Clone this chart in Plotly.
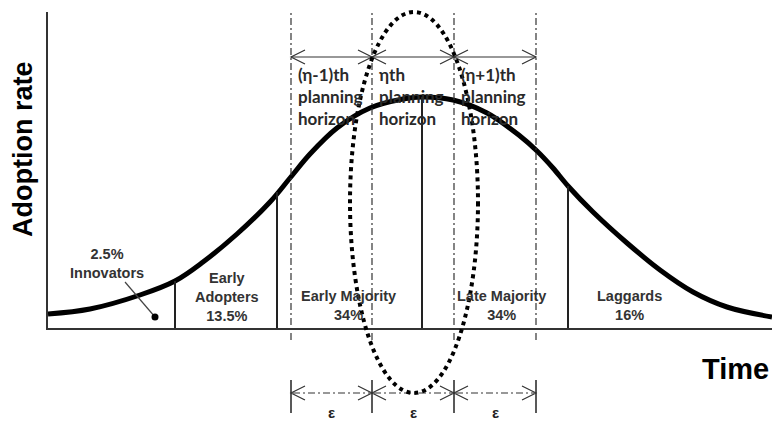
import plotly.graph_objects as go

# ---- data -------------------------------------------------------------
# Bell-shaped adoption curve sampled along its length (time, adoption rate)
curve_time = [0, 42, 92, 127, 155, 189, 222, 242, 262, 289, 322, 355, 374,
              405, 439, 472, 489, 505, 520, 545, 579, 612, 645, 679, 724]
curve_rate = [14, 19, 33, 47, 66, 94, 126, 150, 174, 200, 220, 229, 231,
              228, 215, 192, 177, 160, 142, 116, 85, 58, 36, 21, 11]

# Solid dividers between adopter categories (time, height up to the curve)
divider_time = [127, 229, 374, 520]
divider_top = [47, 136, 231, 142]

# Category labels (text, time, rate)
category_text = ["2.5%<br>Innovators", "Early<br>Adopters<br>13.5%",
                 "Early Majority<br>34%", "Late Majority<br>34%",
                 "Laggards<br>16%"]
category_time = [59, 179, 300, 453, 581]
category_rate = [65, 31, 23, 23, 23]

# Planning horizons: boundaries and labels
horizon_edges = [243, 324, 406, 488]
horizon_text = ["(η-1)th<br>planning<br>horizon", "ηth<br>planning<br>horizon",
                "(η+1)th<br>planning<br>horizon"]
epsilon_text = ["ε", "ε", "ε"]

# Innovators pointer (from label to dot)
pointer_time = [77, 107]
pointer_rate = [46, 11]

# ---- axes geometry ---------------------------------------------------------
X_RANGE = [0, 724]
Y_RANGE = [0, 316]


def yp(v):
    """Map an adoption-rate value onto paper fraction of the plot area."""
    return (v - Y_RANGE[0]) / (Y_RANGE[1] - Y_RANGE[0])


fig = go.Figure()

# adoption curve
fig.add_trace(go.Scatter(
    x=curve_time, y=curve_rate, mode="lines",
    line=dict(color="black", width=5, shape="spline", smoothing=1.0),
    hoverinfo="skip", showlegend=False))

# innovators pointer
fig.add_trace(go.Scatter(
    x=pointer_time, y=pointer_rate, mode="lines",
    line=dict(color="#444", width=1.2), hoverinfo="skip", showlegend=False))
fig.add_trace(go.Scatter(
    x=[pointer_time[-1]], y=[pointer_rate[-1]], mode="markers",
    marker=dict(color="black", size=7), hoverinfo="skip", showlegend=False))

shapes = []

# category dividers
for t, top in zip(divider_time, divider_top):
    shapes.append(dict(type="line", xref="x", yref="y", x0=t, x1=t, y0=0, y1=top,
                       line=dict(color="#222", width=2)))

DASHDOT = "7px,3px,2px,3px"

# horizon boundaries (dash-dot), running above and below the axis
for t in horizon_edges:
    shapes.append(dict(type="line", xref="x", yref="paper", x0=t, x1=t,
                       y0=yp(-12), y1=yp(315),
                       line=dict(color="#333", width=1.2, dash=DASHDOT)))
    shapes.append(dict(type="line", xref="x", yref="paper", x0=t, x1=t,
                       y0=yp(-85), y1=yp(-52),
                       line=dict(color="#222", width=1.5)))


def chevron(x_tip, y, direction, length=14, half=7):
    back = x_tip - direction * length
    return (f"M {back},{yp(y + half)} L {x_tip},{yp(y)} L {back},{yp(y - half)}")


TOP_Y = 271
BOTTOM_Y = -65
for a, b in zip(horizon_edges[:-1], horizon_edges[1:]):
    # upper double arrow (solid)
    shapes.append(dict(type="line", xref="x", yref="paper", x0=a, x1=b,
                       y0=yp(TOP_Y), y1=yp(TOP_Y),
                       line=dict(color="#333", width=1.2)))
    # lower double arrow (dash-dot)
    shapes.append(dict(type="line", xref="x", yref="paper", x0=a + 2, x1=b - 2,
                       y0=yp(BOTTOM_Y), y1=yp(BOTTOM_Y),
                       line=dict(color="#333", width=1.2, dash=DASHDOT)))
    for yy in (TOP_Y, BOTTOM_Y):
        for tip, d in ((a, -1), (b, 1)):
            shapes.append(dict(type="path", xref="x", yref="paper",
                               path=chevron(tip, yy, d),
                               line=dict(color="#333", width=1.2)))

# dotted ellipse around the current planning horizon
shapes.append(dict(type="circle", xref="x", yref="paper",
                   x0=302, x1=430, y0=yp(-65), y1=yp(316),
                   line=dict(color="black", width=4, dash="4px,4px")))

annotations = []
for txt, t, r in zip(category_text, category_time, category_rate):
    annotations.append(dict(x=t, y=r, xref="x", yref="y", text=txt,
                            showarrow=False, xanchor="center", yanchor="middle",
                            font=dict(family="Liberation Sans", size=14.5,
                                      color="#333", weight="bold")))

for txt, t in zip(horizon_text, horizon_edges[:-1]):
    annotations.append(dict(x=t + 5, y=232, xref="x", yref="y", text=txt,
                            showarrow=False, xanchor="left", yanchor="middle",
                            align="left",
                            font=dict(family="Lato", size=17, color="#2a2a2a",
                                      weight="bold")))

for txt, a, b in zip(epsilon_text, horizon_edges[:-1], horizon_edges[1:]):
    annotations.append(dict(x=(a + b) / 2, y=yp(-84), xref="x", yref="paper",
                            text=txt, showarrow=False, xanchor="center",
                            yanchor="middle",
                            font=dict(family="Liberation Sans", size=15,
                                      color="#222", weight="bold")))

# axis titles
annotations.append(dict(x=-25 / 724, y=yp(179), xref="paper", yref="paper",
                        text="Adoption rate", textangle=-90, showarrow=False,
                        xanchor="center", yanchor="middle",
                        font=dict(family="Liberation Sans", size=27,
                                  color="black", weight="bold")))
annotations.append(dict(x=652, y=yp(-41), xref="x", yref="paper",
                        text="Time", showarrow=False, xanchor="left",
                        yanchor="middle",
                        font=dict(family="Liberation Sans", size=29,
                                  color="black", weight="bold")))

axis_common = dict(showline=True, linecolor="#333", linewidth=1.5,
                   showgrid=False, zeroline=False, showticklabels=False,
                   ticks="", fixedrange=True)

fig.update_layout(
    width=772, height=421,
    margin=dict(l=48, r=0, t=12, b=93),
    paper_bgcolor="white", plot_bgcolor="white",
    xaxis=dict(range=X_RANGE, **axis_common),
    yaxis=dict(range=Y_RANGE, **axis_common),
    shapes=shapes, annotations=annotations,
    showlegend=False,
)

fig.write_html("out.html")
